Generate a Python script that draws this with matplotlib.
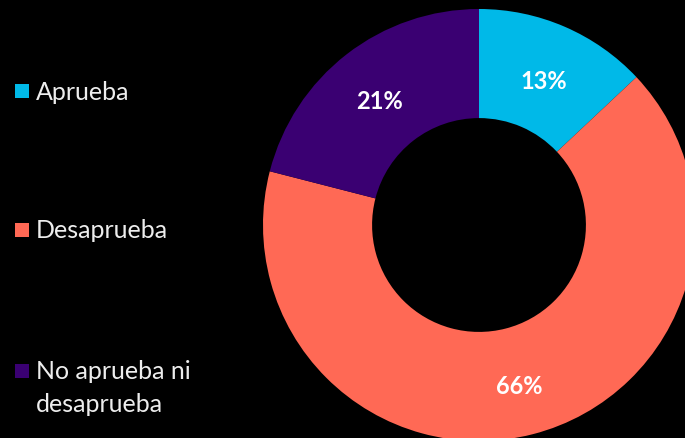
import matplotlib
matplotlib.use("Agg")
import matplotlib.pyplot as plt
from matplotlib.patches import Rectangle
import matplotlib.transforms as mtransforms

categories = ["Aprueba", "Desaprueba", "No aprueba ni\ndesaprueba"]
values = [13, 66, 21]
colors = ["#00B9E8", "#FF6955", "#3A0072"]

W, H = 685, 439
fig = plt.figure(figsize=(W / 100, H / 100), dpi=100, facecolor="black")
plt.rcParams['font.family'] = ['Lato', 'DejaVu Sans']

cx, cy, R = 479, 226, 216
ax = fig.add_axes([(cx - R) / W, (H - cy - R) / H, 2 * R / W, 2 * R / H])
ax.set_facecolor("black")
wedges, texts, autotexts = ax.pie(
    values, colors=colors, startangle=90, counterclock=False,
    radius=1, wedgeprops=dict(width=0.505, edgecolor="none"),
    autopct=lambda p: f"{p:.0f}%", pctdistance=0.75,
    textprops=dict(color="white", fontsize=17, fontweight="bold"))
shift = mtransforms.ScaledTranslation(0, -4 / 100, fig.dpi_scale_trans)
for t in autotexts:
    t.set_transform(t.get_transform() + shift)
ax.set_xlim(-1, 1)
ax.set_ylim(-1, 1)
ax.set_aspect("equal")
ax.axis("off")

# manual legend
leg_y = [92, 231, 372]
line_gap = 33
for cat, col, y in zip(categories, colors, leg_y):
    fig.patches.append(Rectangle((15 / W, (H - y - 7) / H), 14 / W, 14 / H,
                                 transform=fig.transFigure, facecolor=col,
                                 edgecolor="none"))
    for i, line in enumerate(cat.split("\n")):
        fig.text(36 / W, (H - y - i * line_gap) / H, line, color="#EDEDED",
                 fontsize=18, va="center", ha="left")

fig.savefig("out.png", dpi=100, facecolor="black")
